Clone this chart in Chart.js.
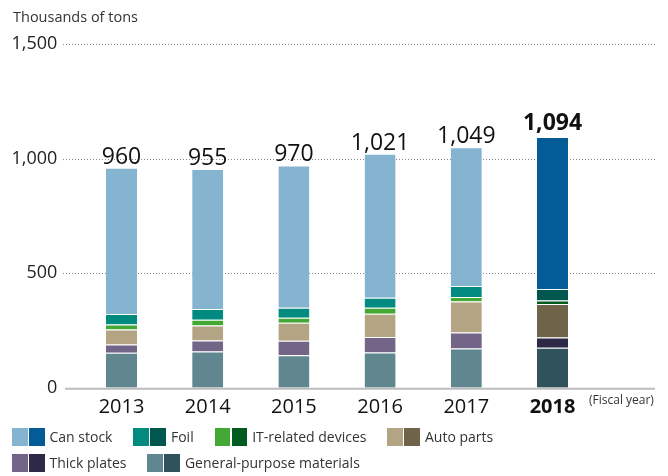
<!DOCTYPE html>
<html>
<head>
<meta charset="utf-8">
<script src="https://cdn.jsdelivr.net/npm/chart.js@4.4.1/dist/chart.umd.min.js"></script>
<style>
  html, body { margin:0; padding:0; background:#fff; }
  #wrap { position:relative; width:668px; height:476px; overflow:hidden; font-family:"Open Sans", sans-serif; }
  #c { position:absolute; left:0; top:0; }
  #legend { position:absolute; left:12px; top:428px; }
  .row { display:flex; align-items:center; height:18px; margin-bottom:8px; }
  .item { display:flex; align-items:center; margin-right:21px; }
  .sw { width:15.5px; height:18px; margin-right:1.5px; }
  .sw2 { margin-right:5px; }
  .lbl { font-size:14px; color:#333; line-height:18px; white-space:nowrap; }
</style>
</head>
<body>
<div id="wrap">
  <canvas id="c" width="668" height="476"></canvas>
  <div id="legend"></div>
</div>
<script>
// ---- data ----
const years = ['2013', '2014', '2015', '2016', '2017', '2018'];
const totals = [960, 955, 970, 1021, 1049, 1094];
const generalPurpose = [153, 158, 142, 154, 171, 174];
const thickPlates = [36, 48, 63, 67, 70, 45];
const autoParts = [65, 65, 78, 102, 135, 146];
const itDevices = [22, 26, 22, 26, 20, 16];
const foil = [46, 46, 44, 44, 48, 50];
const canStock = [638, 612, 621, 628, 605, 663];
const yTicks = [0, 500, 1000, 1500];
const highlightYear = '2018';
const yAxisTitle = 'Thousands of tons';
const xAxisNote = '(Fiscal year)';

// ---- styles ----
const seriesStyle = [
  { name: 'General-purpose materials', data: generalPurpose, light: '#608690', dark: '#30525c' },
  { name: 'Thick plates', data: thickPlates, light: '#736587', dark: '#2e2849' },
  { name: 'Auto parts', data: autoParts, light: '#b3a584', dark: '#6f634a' },
  { name: 'IT-related devices', data: itDevices, light: '#44a834', dark: '#005c1e' },
  { name: 'Foil', data: foil, light: '#008a80', dark: '#00574f' },
  { name: 'Can stock', data: canStock, light: '#84b4cf', dark: '#035c98' }
];
const legendRows = [
  ['Can stock', 'Foil', 'IT-related devices', 'Auto parts'],
  ['Thick plates', 'General-purpose materials']
];
const FONT = '"Open Sans", sans-serif';

const datasets = seriesStyle.map(s => ({
  label: s.name,
  data: s.data,
  backgroundColor: years.map(y => y === highlightYear ? s.dark : s.light),
  borderColor: '#ffffff',
  borderWidth: { top: 1, right: 0, bottom: 0, left: 0 },
  borderSkipped: false,
  barPercentage: 0.36,
  categoryPercentage: 1.0
}));

const decor = {
  id: 'decor',
  beforeDatasetsDraw(chart) {
    const { ctx, scales: { y } } = chart;
    ctx.save();
    ctx.strokeStyle = '#8a8a8a';
    ctx.lineWidth = 1;
    ctx.setLineDash([1, 2]);
    yTicks.forEach(v => {
      if (v === 0) return;
      const py = Math.round(y.getPixelForValue(v)) + 0.5;
      ctx.beginPath();
      ctx.moveTo(63, py);
      ctx.lineTo(656, py);
      ctx.stroke();
    });
    ctx.restore();
  },
  afterDatasetsDraw(chart) {
    const { ctx, scales: { y } } = chart;
    ctx.save();
    // baseline
    const by = y.getPixelForValue(0);
    ctx.strokeStyle = '#bdbdbd';
    ctx.lineWidth = 2;
    ctx.beginPath();
    ctx.moveTo(65, by + 1);
    ctx.lineTo(655, by + 1);
    ctx.stroke();
    // totals above bars
    const meta = chart.getDatasetMeta(chart.data.datasets.length - 1);
    ctx.fillStyle = '#111';
    ctx.textAlign = 'center';
    ctx.textBaseline = 'alphabetic';
    meta.data.forEach((el, i) => {
      const bold = years[i] === highlightYear;
      ctx.font = (bold ? 'bold ' : '') + '23px ' + FONT;
      ctx.fillText(totals[i].toLocaleString('en-US'), el.x, el.y - (bold ? 7 : 4));
    });
    // axis title
    ctx.fillStyle = '#333';
    ctx.textAlign = 'left';
    ctx.font = '14.5px ' + FONT;
    ctx.fillText(yAxisTitle, 13, 22);
    // x note
    ctx.font = '12px ' + FONT;
    ctx.fillText(xAxisNote, 589, 404);
    ctx.restore();
  }
};

new Chart(document.getElementById('c'), {
  type: 'bar',
  data: { labels: years, datasets },
  options: {
    responsive: false,
    animation: false,
    devicePixelRatio: 1,
    layout: { padding: { left: 0.4, right: 72.4, top: 44, bottom: 0 } },
    plugins: { legend: { display: false }, tooltip: { enabled: false } },
    scales: {
      x: {
        stacked: true,
        grid: { display: false },
        border: { display: false },
        ticks: {
          color: '#111',
          padding: 0,
          font: ctx => ({ family: FONT, size: 20, weight: years[ctx.index] === highlightYear ? 'bold' : 'normal' })
        },
        afterFit(scale) { scale.height = 88.3; }
      },
      y: {
        stacked: true,
        min: yTicks[0],
        max: yTicks[yTicks.length - 1],
        afterBuildTicks(scale) { scale.ticks = yTicks.map(v => ({ value: v })); },
        grid: { display: false },
        border: { display: false },
        ticks: {
          color: '#222',
          padding: 13,
          font: { family: FONT, size: 18 },
          callback: v => v.toLocaleString('en-US')
        },
        afterFit(scale) { scale.width = 78; }
      }
    }
  },
  plugins: [decor]
});

// ---- HTML legend (two colour swatches per series) ----
const legendEl = document.getElementById('legend');
legendRows.forEach(row => {
  const r = document.createElement('div');
  r.className = 'row';
  row.forEach(name => {
    const s = seriesStyle.find(x => x.name === name);
    const it = document.createElement('div');
    it.className = 'item';
    it.innerHTML = '<span class="sw" style="background:' + s.light + '"></span>' +
      '<span class="sw sw2" style="background:' + s.dark + '"></span>' +
      '<span class="lbl">' + s.name + '</span>';
    r.appendChild(it);
  });
  legendEl.appendChild(r);
});
</script>
</body>
</html>
